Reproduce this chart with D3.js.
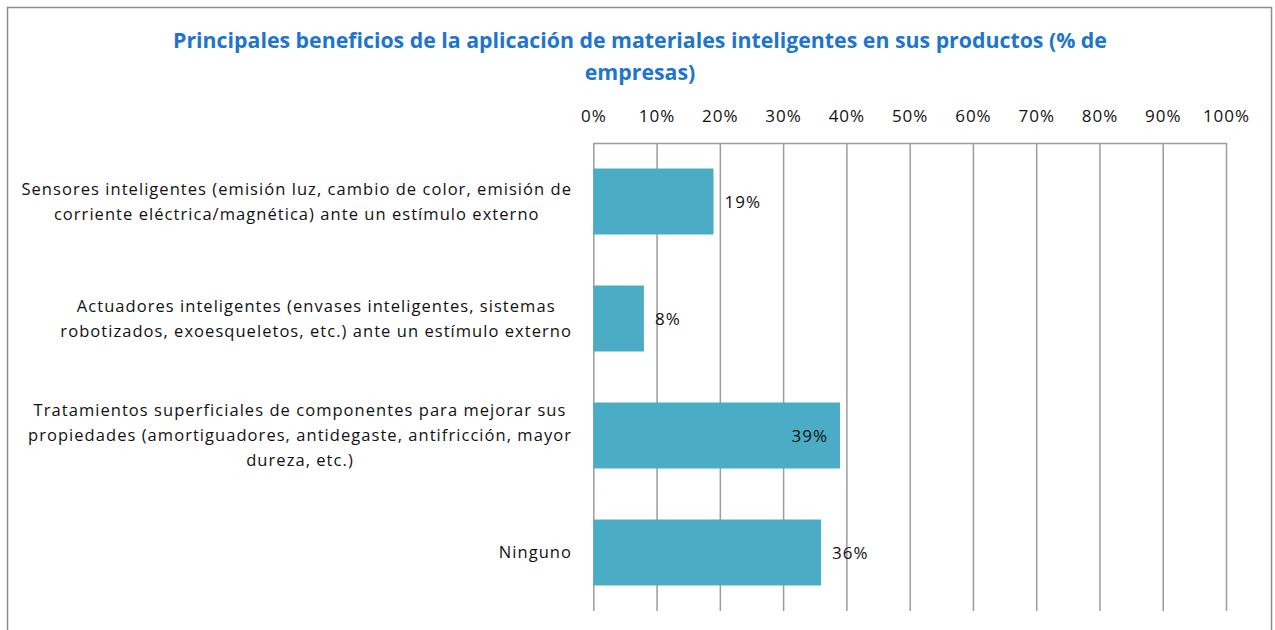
<!DOCTYPE html>
<html>
<head>
<meta charset="utf-8">
<script src="https://cdn.jsdelivr.net/npm/d3@7"></script>
<style>
  html, body { margin: 0; padding: 0; background: #fff; }
  svg { display: block; font-family: "Open Sans", "Liberation Sans", sans-serif; }
</style>
</head>
<body>
<svg id="chart" width="1275" height="630"></svg>
<script>
// Chart content
const titleLines = [
  "Principales beneficios de la aplicación de materiales inteligentes en sus productos (% de",
  "empresas)"
];
const categories = [
  "Sensores",
  "Actuadores",
  "Tratamientos",
  "Ninguno"
];
const categoryLines = [
  ["Sensores inteligentes (emisión luz, cambio de color, emisión de",
   "corriente eléctrica/magnética) ante un estímulo externo"],
  ["Actuadores inteligentes (envases inteligentes, sistemas",
   "robotizados, exoesqueletos, etc.) ante un estímulo externo"],
  ["Tratamientos superficiales de componentes para mejorar sus",
   "propiedades (amortiguadores, antidegaste, antifricción, mayor",
   "dureza, etc.)"],
  ["Ninguno"]
];
const values = [19, 8, 39, 36];
const labelInside = [false, false, true, false];
const tickValues = [0, 10, 20, 30, 40, 50, 60, 70, 80, 90, 100];

// Layout
const plot = { left: 593.3, right: 1226, top: 143, bottom: 611 };
const barColor = "#4bacc6";
const gridColor = "#9c9c9c";
const numSize = 17;
const catSize = 16.5;

const svg = d3.select("#chart");

// outer frame
svg.append("rect")
  .attr("x", 7.5).attr("y", 7.5)
  .attr("width", 1264).attr("height", 640)
  .attr("fill", "#fff")
  .attr("stroke", "#8c8c8c").attr("stroke-width", 1.5);

// title
svg.append("text")
  .attr("text-anchor", "middle")
  .attr("font-weight", "bold")
  .attr("font-size", 21.3)
  .attr("fill", "#1f75cb")
  .selectAll("tspan")
  .data(titleLines)
  .join("tspan")
  .attr("x", 640)
  .attr("y", (d, i) => 47.5 + i * 32)
  .text(d => d);

const x = d3.scaleLinear().domain([0, 100]).range([plot.left, plot.right]);
const y = d3.scaleBand()
  .domain(categories)
  .range([plot.top, plot.bottom])
  .paddingInner(0.436)
  .paddingOuter(0.218);

// top value axis with vertical gridlines
const xAxis = d3.axisTop(x)
  .tickValues(tickValues)
  .tickFormat(d => d + "%")
  .tickSizeInner(-(plot.bottom - plot.top))
  .tickSizeOuter(0)
  .tickPadding(21);

const ax = svg.append("g")
  .attr("transform", `translate(0,${plot.top})`)
  .call(xAxis);
ax.select(".domain").attr("stroke", gridColor).attr("stroke-width", 1.5);
ax.selectAll(".tick line").attr("stroke", gridColor).attr("stroke-width", 1.5);
ax.selectAll(".tick text")
  .attr("font-size", numSize)
  .attr("font-family", "'Open Sans', sans-serif")
  .attr("letter-spacing", 1)
  .attr("fill", "#111");

// bars
svg.append("g")
  .selectAll("rect")
  .data(values)
  .join("rect")
  .attr("x", x(0))
  .attr("y", (d, i) => y(categories[i]))
  .attr("width", d => x(d) - x(0))
  .attr("height", y.bandwidth())
  .attr("fill", barColor);

// value labels
svg.append("g")
  .selectAll("text")
  .data(values)
  .join("text")
  .attr("x", (d, i) => labelInside[i] ? x(d) - 12 : x(d) + 11)
  .attr("y", (d, i) => y(categories[i]) + y.bandwidth() / 2)
  .attr("dy", "0.36em")
  .attr("text-anchor", (d, i) => labelInside[i] ? "end" : "start")
  .attr("font-size", numSize)
  .attr("letter-spacing", 1)
  .attr("fill", "#111")
  .text(d => d + "%");

// category labels: lines centred within a right-aligned block
const labelRight = 572;
const lineH = 25;
const catG = svg.append("g")
  .attr("font-size", catSize)
  .attr("letter-spacing", 1.05)
  .attr("fill", "#111");
categoryLines.forEach((lines, i) => {
  const cy = y(categories[i]) + y.bandwidth() / 2;
  const t = catG.append("text").attr("text-anchor", "middle");
  const spans = t.selectAll("tspan")
    .data(lines)
    .join("tspan")
    .attr("y", (d, j) => cy + (j - (lines.length - 1) / 2) * lineH)
    .attr("dy", "0.36em")
    .text(d => d);
  let w = 0;
  spans.each(function () { w = Math.max(w, this.getComputedTextLength()); });
  spans.attr("x", labelRight - w / 2);
});
</script>
</body>
</html>
